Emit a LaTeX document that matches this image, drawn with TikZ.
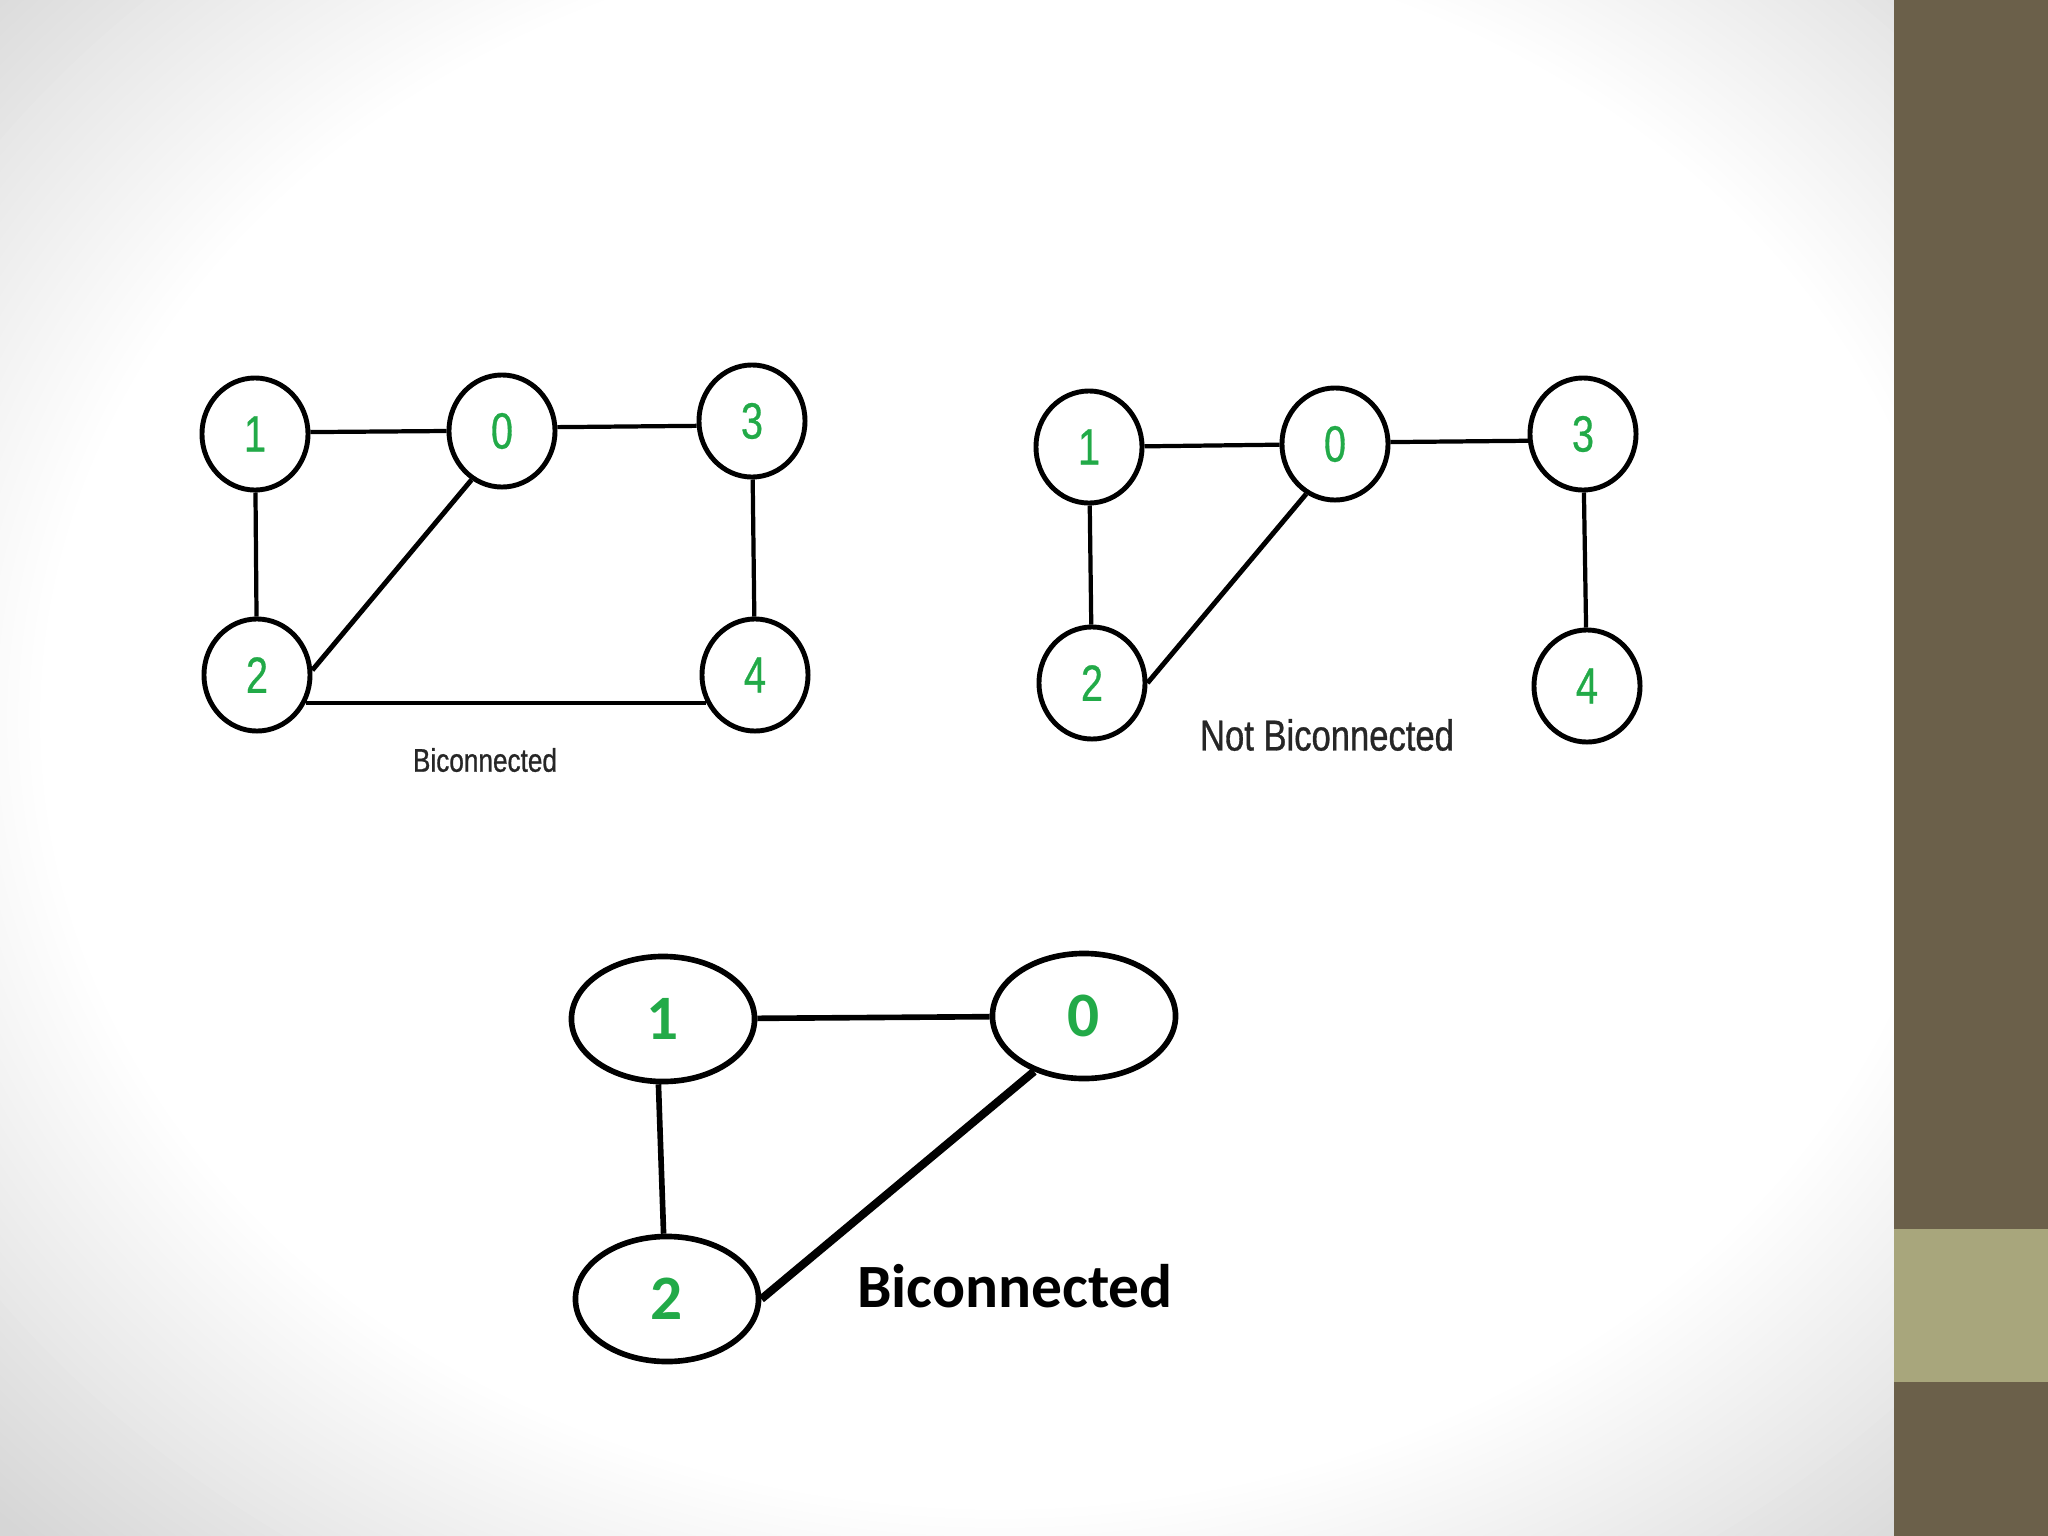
\documentclass[tikz,border=0pt]{standalone}
\usepackage{fontspec}
\setmainfont{Liberation Sans}
\newfontfamily\narrowfont[FakeStretch=0.78,FakeBold=0.6]{Liberation Sans}
\newfontfamily\labelfont[FakeStretch=0.8,FakeBold=0.8]{Liberation Sans}
\newfontfamily\calfont{Carlito}
\usetikzlibrary{shapes.geometric}
\definecolor{digitgreen}{RGB}{34,170,72}
\definecolor{bandbrown}{RGB}{107,96,74}
\definecolor{bandolive}{RGB}{168,166,124}
\begin{document}
\begin{tikzpicture}[x=0.01cm,y=-0.01cm,
  vtx/.style={ellipse,draw,line width=1.4pt,minimum width=1.06cm,minimum height=1.12cm,inner sep=0pt,text=digitgreen,font=\narrowfont\fontsize{14.5}{14.5}\selectfont},
  bigvtx/.style={ellipse,draw,line width=1.6pt,minimum width=1.83cm,minimum height=1.25cm,inner sep=0pt,text=digitgreen,font=\calfont\bfseries\fontsize{18}{18}\selectfont},
  edge/.style={line width=1.2pt}]
\useasboundingbox (0,0) rectangle (2048,1536);
\begin{scope}
\clip (0,0) rectangle (1894,1536);
\fill[black!16] (0,0) rectangle (1894,1536);
\foreach \i in {0,...,40} {
  \pgfmathsetmacro\greyamt{16*(1-\i/40)}
  \fill[black!\greyamt] (1000,720) ellipse ({1400-11*\i} and {1150-9*\i});
}
\end{scope}
\fill[bandbrown] (1894,0) rectangle (2048,1536);
\fill[bandolive] (1894,1229) rectangle (2048,1382);

\node[vtx] (a1) at (255,434) {1};
\node[vtx] (a0) at (502,431) {0};
\node[vtx] (a3) at (752,421) {3};
\node[vtx] (a2) at (257,675) {2};
\node[vtx] (a4) at (755,675) {4};
\draw[edge] (a1.2)--(a0.180);
\draw[edge] (a0.4)--(a3.185);
\draw[edge] (a3)--(a4);
\draw[edge] (a1)--(a2);
\draw[edge,line width=1.4pt] (a2.5)--(a0.238);
\draw[edge] (a2.-30)--(a4.210);
\node[text=black!85,font=\labelfont\fontsize{9.3}{9.3}\selectfont] (alabel) at (485,760) {Biconnected};

\node[vtx] (b1) at (1089,447) {1};
\node[vtx] (b0) at (1335,444) {0};
\node[vtx] (b3) at (1583,434) {3};
\node[vtx] (b2) at (1092,683) {2};
\node[vtx] (b4) at (1587,686) {4};
\draw[edge] (b1)--(b0);
\draw[edge] (b0.2)--(b3.187);
\draw[edge] (b3)--(b4);
\draw[edge] (b1)--(b2);
\draw[edge,line width=1.4pt] (b2.0)--(b0.240);
\node[text=black!85,font=\labelfont\fontsize{12.3}{12.3}\selectfont] (blabel) at (1327,735) {Not Biconnected};

\node[bigvtx] (c1) at (663,1019) {1};
\node[bigvtx] (c0) at (1084,1016) {0};
\node[bigvtx] (c2) at (667,1299) {2};
\draw[edge,line width=1.6pt] (c1)--(c0);
\draw[edge,line width=1.6pt] (c1.266)--(c2.93);
\draw[edge,line width=2.3pt] (c2.east)--(c0.228);
\node[font=\calfont\bfseries\fontsize{17.5}{17.5}\selectfont] (clabel) at (1015,1286) {Biconnected};
\end{tikzpicture}
\end{document}
